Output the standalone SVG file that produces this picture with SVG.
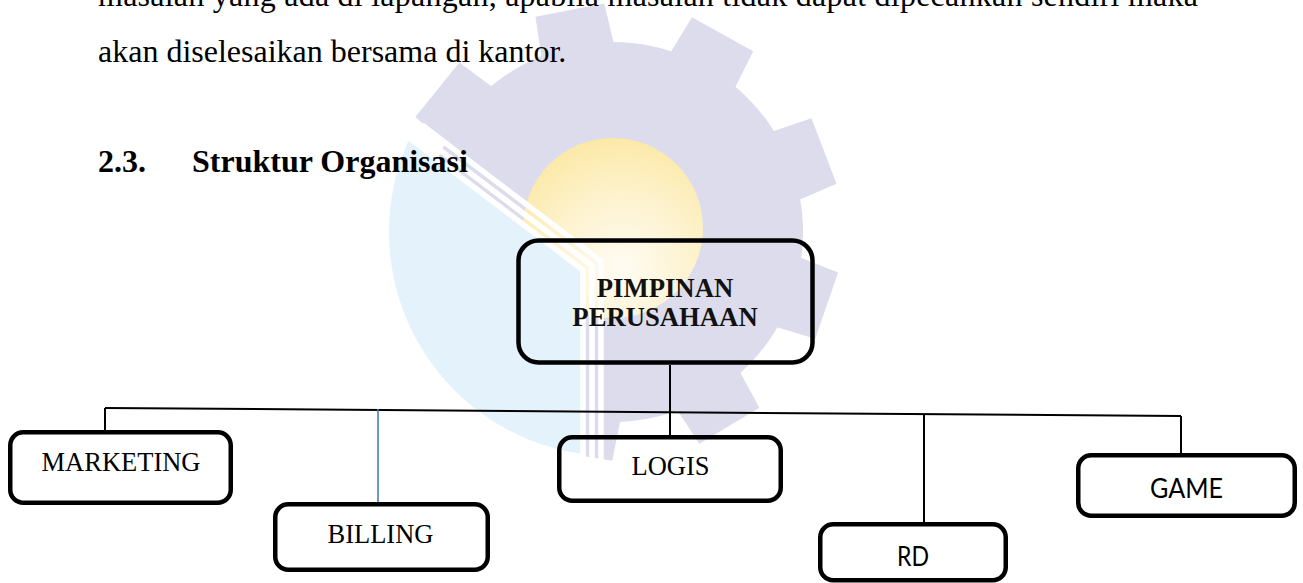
<svg xmlns="http://www.w3.org/2000/svg" xmlns:xlink="http://www.w3.org/1999/xlink" width="1303" height="583" viewBox="0 0 1303 583">
  <style>
    .body { font-family: "Liberation Serif", "Times New Roman", serif; font-size: 32px; fill: #000; }
    .bold { font-weight: bold; }
    .box { fill: none; stroke: #000; stroke-width: 4.5; }
    .lbl { font-family: "Liberation Serif", "Times New Roman", serif; font-size: 26.5px; text-anchor: middle; fill: #000; }
    .lblb { font-family: "Liberation Serif", "Times New Roman", serif; font-size: 26.7px; font-weight: bold; text-anchor: middle; fill: #111; }
    .lbls { font-family: Lato, "Open Sans", sans-serif; font-size: 26px; text-anchor: middle; fill: #000; }
    .conn { stroke: #000; stroke-width: 2; fill: none; }
    .stripe { fill: none; stroke: #fff; stroke-width: 5.5; }
  </style>
  <defs>
    <path id="tooth" d="M180,-37 L226,-35 L226,35 L180,37 Z"/>
    <g id="gear">
      <circle cx="613" cy="232" r="190"/>
      <use xlink:href="#tooth" transform="translate(613 232) rotate(-101)"/>
      <use xlink:href="#tooth" transform="translate(613 232) rotate(-61)"/>
      <use xlink:href="#tooth" transform="translate(613 232) rotate(-21)"/>
      <use xlink:href="#tooth" transform="translate(613 232) rotate(19)"/>
      <use xlink:href="#tooth" transform="translate(613 232) rotate(59)"/>
      <use xlink:href="#tooth" transform="translate(613 232) rotate(99)"/>
      <use xlink:href="#tooth" transform="translate(613 232) rotate(139)"/>
      <use xlink:href="#tooth" transform="translate(613 232) rotate(179)"/>
      <use xlink:href="#tooth" transform="translate(613 232) rotate(219)"/>
    </g>
    <clipPath id="blueClip">
      <polygon points="29,-153 583,270 583,600 0,600 0,-153"/>
    </clipPath>
    <clipPath id="lavClip">
      <polygon points="29,-153 583,270 583,600 1303,600 1303,-153"/>
    </clipPath>
    <radialGradient id="sun" cx="0.55" cy="0.72" r="0.75">
      <stop offset="0" stop-color="#fffcf3"/>
      <stop offset="0.55" stop-color="#fdf2cc"/>
      <stop offset="1" stop-color="#fce8a4"/>
    </radialGradient>
  </defs>

  <rect width="1303" height="583" fill="#fff"/>

  <g id="watermark">
    <use xlink:href="#gear" fill="#dcdcec" clip-path="url(#lavClip)"/>
    <circle cx="613" cy="228" r="90" fill="url(#sun)" clip-path="url(#lavClip)"/>
    <circle cx="613" cy="232" r="224" fill="#e4f3fb" clip-path="url(#blueClip)"/>
    <polyline class="stripe" points="404,134 583,270 583,460"/>
    <polyline class="stripe" points="413,129.6 592,265.6 592,460"/>
    <polyline class="stripe" points="422,125 601,261 601,460"/>
  </g>

  <g id="text">
    <text class="body" x="98" y="6" textLength="1100">masalah yang ada di lapangan, apabila masalah tidak dapat dipecahkan sendiri maka</text>
    <text class="body" x="98" y="62">akan diselesaikan bersama di kantor.</text>
    <text class="body bold" x="98" y="172">2.3.</text>
    <text class="body bold" x="192" y="172">Struktur Organisasi</text>
  </g>

  <g id="connectors">
    <line class="conn" x1="105" y1="408" x2="1181" y2="416"/>
    <line class="conn" x1="105" y1="408" x2="105" y2="431"/>
    <line x1="378" y1="409" x2="378" y2="503" stroke="#4a7ebb" stroke-width="1.6"/>
    <line class="conn" x1="670" y1="365" x2="670" y2="436"/>
    <line class="conn" x1="924" y1="414" x2="924" y2="523" stroke-width="1.6"/>
    <line class="conn" x1="1181" y1="416" x2="1181" y2="454" stroke-width="1.6"/>
  </g>

  <g id="node-pimpinan">
    <rect class="box" x="518.5" y="240.5" width="294" height="122" rx="20" stroke-width="5"/>
    <text class="lblb" x="665" y="296.5">PIMPINAN</text>
    <text class="lblb" x="665" y="325.5">PERUSAHAAN</text>
  </g>

  <g id="node-marketing">
    <rect class="box" x="10.25" y="432.25" width="220.5" height="70.5" rx="13"/>
    <text class="lbl" x="121" y="471">MARKETING</text>
  </g>

  <g id="node-billing">
    <rect class="box" x="275.25" y="504.25" width="212.5" height="65.5" rx="13"/>
    <text class="lbl" x="380.5" y="543">BILLING</text>
  </g>

  <g id="node-logis">
    <rect class="box" x="559.25" y="437.25" width="221.5" height="63.5" rx="13"/>
    <text class="lbl" x="670.5" y="475">LOGIS</text>
  </g>

  <g id="node-rd">
    <rect class="box" x="820.25" y="524.25" width="185.5" height="56" rx="13"/>
    <text class="lbls" x="913" y="566" textLength="32" lengthAdjust="spacingAndGlyphs">RD</text>
  </g>

  <g id="node-game">
    <rect class="box" x="1078.25" y="455.25" width="216.5" height="60.5" rx="13"/>
    <text class="lbls" x="1186.5" y="498" textLength="73" lengthAdjust="spacingAndGlyphs">GAME</text>
  </g>
</svg>
